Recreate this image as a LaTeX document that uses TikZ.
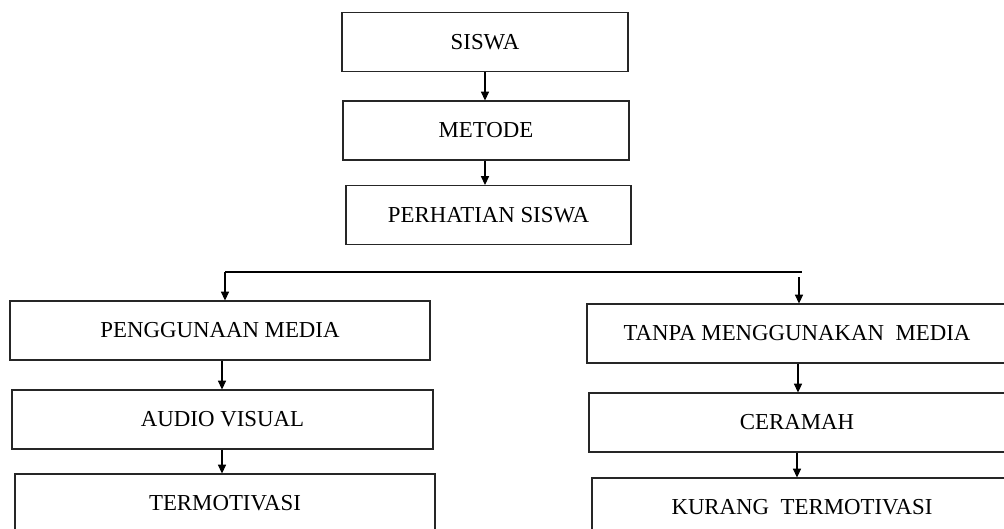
\documentclass[tikz,border=0pt]{standalone}
\usepackage{fontspec}
\setmainfont{Liberation Serif}
\usetikzlibrary{arrows.meta, positioning}
\tikzset{box/.style={draw=black!85, line width=0.6pt, minimum height=59*0.02cm, inner sep=0pt, font=\fontsize{13}{15}\selectfont}}

\begin{document}
\begin{tikzpicture}[x=0.02cm, y=-0.02cm, line width=0.6pt, >={Triangle[length=5pt, width=4.6pt]}]
\useasboundingbox (0,0) rectangle (1004,528);
\clip (0,0) rectangle (1004,528);
\node[box, minimum width=286*0.02cm] (siswa) at (485,42) {SISWA};
\node[box, minimum width=286*0.02cm] (metode) at (486,130.5) {METODE};
\node[box, minimum width=285*0.02cm] (perhatian) at (488.5,215) {PERHATIAN SISWA};
\node[box, minimum width=420*0.02cm] (media) at (220,330.5) {PENGGUNAAN MEDIA};
\node[box, minimum width=421*0.02cm] (audio) at (222.5,419.5) {AUDIO VISUAL};
\node[box, minimum width=420*0.02cm] (motivasi) at (225,503.5) {TERMOTIVASI};
\node[box, minimum width=420*0.02cm] (tanpa) at (797,333.5) {TANPA MENGGUNAKAN\ \ MEDIA};
\node[box, minimum width=416*0.02cm] (ceramah) at (797,422.5) {CERAMAH};
\node[box, minimum width=420*0.02cm] (kurang) at (802,507.5) {KURANG\ \ TERMOTIVASI};
\coordinate (cabangL) at (225,272);
\coordinate (cabangR) at (802,272);
\coordinate (turunR) at (799,277);
% alur atas
\draw[->] (siswa.south) -- (siswa.south |- metode.north);
\draw[->] (siswa.south |- metode.south) -- (siswa.south |- perhatian.north);
\draw (cabangL) -- (cabangR);
% cabang kiri
\draw[->] (cabangL) -- (cabangL |- media.north);
\draw[->] (media.south -| 222,0) -- (audio.north -| 222,0);
\draw[->] (audio.south -| 222,0) -- (motivasi.north -| 222,0);
% cabang kanan
\draw[->] (turunR) -- (turunR |- tanpa.north);
\draw[->] (tanpa.south -| 798,0) -- (ceramah.north -| 798,0);
\draw[->] (ceramah.south -| 797,0) -- (kurang.north -| 797,0);
\end{tikzpicture}
\end{document}
